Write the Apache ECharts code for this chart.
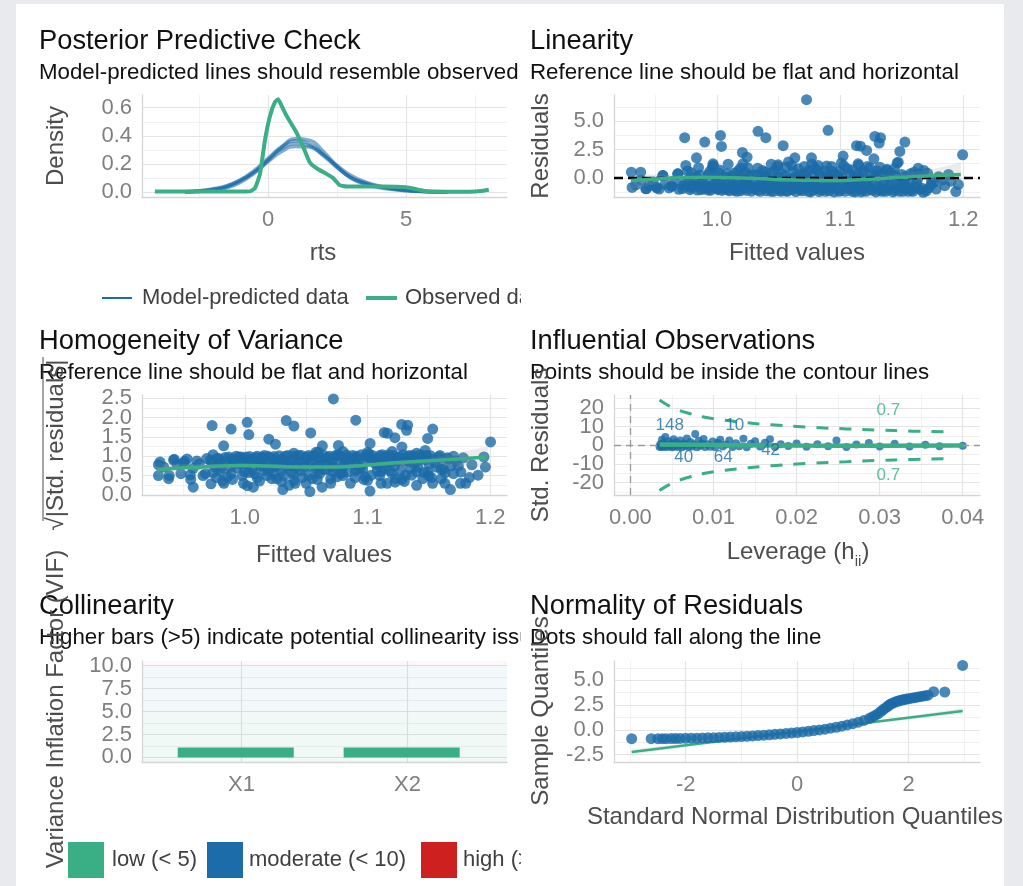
<!DOCTYPE html>
<html><head><meta charset="utf-8">
<script src="https://cdn.jsdelivr.net/npm/echarts@6/dist/echarts.min.js"></script>
<style>html,body{margin:0;padding:0;background:#fff}#c{width:1023px;height:886px}</style>
</head><body><div id="c"></div>
<script>
// ================= DATA =================
// Posterior predictive check
const ppcModelX = [-3.0,-2.5,-2.0,-1.5,-1.0,-0.5,0.0,0.5,1.0,1.5,2.0,2.5,3.0,3.5,4.0,4.5,5.0,5.5,6.0,6.5];
const ppcDraw1 = [0.002,0.007,0.018,0.037,0.080,0.145,0.230,0.310,0.345,0.330,0.260,0.175,0.105,0.068,0.042,0.027,0.015,0.007,0.003,0.001];
const ppcDraw2 = [0.003,0.009,0.020,0.042,0.088,0.155,0.240,0.325,0.365,0.345,0.270,0.180,0.105,0.062,0.038,0.022,0.012,0.006,0.002,0.001];
const ppcDraw3 = [0.004,0.011,0.024,0.046,0.085,0.140,0.215,0.290,0.325,0.320,0.265,0.190,0.120,0.075,0.046,0.028,0.016,0.008,0.004,0.002];
const ppcDraw4 = [0.001,0.005,0.014,0.032,0.070,0.135,0.225,0.320,0.380,0.370,0.290,0.185,0.100,0.058,0.034,0.020,0.011,0.005,0.002,0.001];
const ppcObsX = [-4.1,-3.0,-2.0,-1.0,-0.65,-0.47,-0.29,-0.11,0.07,0.25,0.37,0.5,0.68,1.04,1.28,1.52,1.76,2.12,2.36,2.6,2.85,3.5,4.2,5.0,5.4,5.75,6.5,7.3,7.7,8.0];
const ppcObsY = [0.005,0.005,0.005,0.005,0.006,0.03,0.13,0.37,0.54,0.64,0.66,0.61,0.54,0.42,0.32,0.21,0.17,0.13,0.10,0.05,0.04,0.04,0.04,0.035,0.02,0.006,0.004,0.004,0.008,0.018];

// Linearity: [fitted, residual]
const linPoints = [
[1.0727,6.92],[0.9737,3.55],[0.990,3.16],[1.0028,3.75],[1.0036,2.78],[1.0333,4.11],[1.0396,3.55],[1.0902,4.2],[1.0537,2.84],[1.1282,3.66],[1.1328,3.55],[1.1317,3.07],[1.1526,3.16],[1.1133,2.84],[1.1165,2.80],[1.1215,2.42],[1.1485,2.33],[1.1995,2.04],[1.1024,1.92],[1.0206,2.24],[1.0244,1.83],[0.9833,1.77],[0.9746,1.09],[0.9963,0.94],[1.0632,1.77],[1.0767,1.77],[1.1274,1.68],[1.1463,1.30],[1.1634,0.85],[1.1323,0.94],[1.0496,1.15],[0.9304,0.50],[0.938,0.50],[1.194,-1.22],[1.1675,-1.28],[1.1553,-1.19],[1.1743,-0.24],[0.9426,-0.98],[0.9507,-0.83],[0.956,0.20],[0.9634,-0.74],[0.9683,0.35],
[1.021,1.24],[0.9967,1.24],[1.0605,1.09],[1.0821,1.09],[1.1146,1.24],[1.1377,0.65],[1.1472,1.38],
[0.931,-0.85],[0.934,-0.62],[0.938,-0.2],[0.942,-0.95],[0.945,-0.7],[0.948,-0.35],[0.951,-0.88],
[0.953,-1.0],[0.956,0.2],[0.958,-0.55],[0.961,-0.9],[0.963,-0.74],[0.966,-0.3],[0.968,0.35],[0.969,-1.02],
[0.972,-0.95],[0.974,-0.4],[0.976,0.6],[0.978,-1.05],[0.98,-0.8],[0.982,-0.15],[0.984,-1.08],[0.986,0.25],[0.988,-0.6],[0.99,-1.0],
[0.992,-0.85],[0.994,0.55],[0.995,-1.1],[0.997,1.1],[0.998,-0.3],[1.0,-0.95],[1.002,0.7],[1.004,-1.12],[1.006,-0.5],[1.008,0.35],[1.009,-1.05],
[1.011,-0.8],[1.012,0.15],[1.014,-1.1],[1.016,-0.45],[1.017,0.6],[1.019,-1.15],[1.02,-0.9],[1.022,-0.2],[1.024,-1.12],[1.025,0.9],[1.027,-0.65],[1.028,-1.18],
[1.031,-1.0],[1.032,0.3],[1.034,-0.75],[1.035,-1.2],[1.037,0.65],[1.038,-0.4],[1.04,-1.15],[1.041,-0.1],[1.043,-0.95],[1.045,0.45],[1.046,-1.2],[1.048,-0.6],[1.049,1.0],
[1.051,-1.1],[1.052,-0.3],[1.054,-0.85],[1.055,0.2],[1.057,-1.2],[1.058,1.4],[1.06,-0.7],[1.061,-1.05],[1.063,0.05],[1.064,-1.22],[1.066,0.8],[1.067,-0.5],[1.069,-1.15],
[1.071,-0.9],[1.072,0.4],[1.074,-1.2],[1.075,-0.25],[1.077,1.2],[1.078,-1.1],[1.08,-0.6],[1.081,0.7],[1.083,-1.22],[1.084,-0.4],[1.086,0.1],[1.087,-1.0],[1.089,1.05],
[1.091,-1.15],[1.092,-0.5],[1.094,0.55],[1.095,-1.25],[1.097,-0.8],[1.098,0.25],[1.1,-1.1],[1.101,1.3],[1.103,-0.3],[1.104,-1.2],[1.106,0.8],[1.107,-0.7],[1.109,-1.0],
[1.111,0.1],[1.112,-1.25],[1.114,-0.55],[1.115,1.1],[1.117,-1.05],[1.118,0.45],[1.12,-0.85],[1.121,-1.2],[1.123,-0.2],[1.124,0.9],[1.126,-1.1],[1.127,-0.45],[1.129,-1.25],
[1.131,0.3],[1.133,-0.9],[1.134,-1.2],[1.136,-0.3],[1.138,0.75],[1.139,-1.05],[1.141,-0.6],[1.143,-1.25],[1.145,0.2],[1.147,-0.95],[1.149,-0.4],
[1.151,-1.2],[1.153,0.1],[1.155,-0.8],[1.158,-1.1],[1.16,0.5],[1.162,-0.5],[1.165,-1.05],[1.168,0.65],
[1.172,-0.9],[1.176,-0.4],[1.18,0.1],[1.185,-0.7],[1.19,-0.3],[1.196,-0.6],
[0.973,-0.7],[0.977,-0.2],[0.979,-0.9],[0.981,-0.5],[0.983,0.1],[0.985,-0.75],[0.987,-1.05],[0.989,-0.3],[0.991,-0.65],[0.993,-1.1],
[0.996,-0.7],[0.999,-0.1],[1.001,-1.05],[1.003,-0.35],[1.005,-0.8],[1.007,0.05],[1.01,-1.15],[1.013,-0.6],[1.015,-0.95],[1.018,-0.25],
[1.021,-1.0],[1.023,-0.55],[1.026,0.2],[1.029,-0.85],[1.03,-0.4],[1.033,-1.1],[1.036,-0.05],[1.039,-0.9],[1.042,-0.55],[1.044,-1.2],
[1.047,-0.2],[1.05,-0.95],[1.053,-0.6],[1.056,-1.15],[1.059,-0.15],[1.062,-0.9],[1.065,-0.45],[1.068,-1.05],[1.07,0.2],[1.073,-0.7],
[1.076,-1.25],[1.079,-0.35],[1.082,-0.95],[1.085,-0.75],[1.088,-1.2],[1.09,-0.2],[1.093,-0.9],[1.096,-0.45],[1.099,-1.2],[1.102,0.0],
[1.105,-0.95],[1.108,-0.4],[1.11,-1.2],[1.113,-0.75],[1.116,-0.1],[1.119,-1.1],[1.122,-0.6],[1.125,-1.0],[1.128,0.15],[1.13,-0.8],
[1.132,-1.1],[1.135,-0.5],[1.137,-1.2],[1.14,0.05],[1.142,-0.85],[1.144,-1.1],[1.146,-0.35],[1.148,-1.2],[1.15,-0.7],[1.152,-0.2],
[1.154,-1.0],[1.156,-0.55],[1.159,-1.2],[1.161,-0.85],[1.163,-0.1],[1.166,-0.9],[1.17,-1.15],[1.174,-0.6],[1.178,-1.0],[1.183,-0.2],
[1.061,-0.3],[1.067,-0.95],[1.072,-0.55],[1.078,0.3],[1.084,-1.05],[1.091,-0.65],[1.097,-0.15],[1.104,-0.8],[1.111,-0.35],[1.117,-1.25],
[1.034,-0.6],[1.04,0.15],[1.046,-0.8],[1.052,-1.2],[1.058,-0.5],[1.016,-1.2],[1.024,-0.3],[1.006,-1.0],[0.998,-0.85],[1.012,-0.7],
[0.979,0.45],[0.985,0.9],[0.993,0.3],[1.001,0.45],[1.009,1.2],[1.014,0.4],[1.019,0.85],[1.023,0.5],[1.029,0.25],[1.033,0.85],
[1.039,0.5],[1.044,1.2],[1.047,0.7],[1.053,0.35],[1.056,0.95],[1.062,0.55],[1.068,0.3],[1.071,1.0],[1.074,0.6],[1.079,0.9],
[1.083,0.35],[1.088,0.6],[1.093,1.0],[1.096,0.3],[1.1,0.6],[1.103,1.05],[1.108,0.35],[1.11,0.7],[1.114,0.3],[1.119,0.6],
[1.122,1.0],[1.126,0.25],[1.13,0.6],[1.135,0.35],[1.141,0.45],[1.144,0.8],[1.15,0.3],[1.157,0.35],[1.164,0.3],[1.171,0.4],
[1.188,0.3],[1.05,0.05],[1.065,-0.05],[1.09,0.15],[1.115,-0.15],[1.02,0.05]
];
const linLoess = [[0.93,-0.24],[0.95,-0.1],[0.97,0.0],[1.0,0.02],[1.03,-0.05],[1.054,-0.17],[1.08,-0.22],[1.095,-0.24],[1.11,-0.2],[1.127,-0.1],[1.145,0.02],[1.162,0.11],[1.18,0.2],[1.198,0.29]];
const linBand = [[0.930,-1.0,0.45],[0.95,-0.55,0.3],[0.97,-0.3,0.25],[1.0,-0.2,0.2],[1.03,-0.25,0.1],[1.06,-0.35,0.0],[1.09,-0.42,-0.02],[1.12,-0.35,0.08],[1.15,-0.15,0.35],[1.175,-0.2,0.75],[1.198,-0.6,1.35]];
const linRefY = 0;

// Homogeneity: [fitted, sqrt|std resid|]
const homPoints = [
[1.0722,2.48],[1.0904,1.93],[0.9734,1.79],[0.9889,1.70],[1.002,1.875],[1.0033,1.56],[1.0338,1.92],[1.040,1.78],[1.0537,1.60],[1.0196,1.44],[1.025,1.31],[0.9828,1.27],[1.0632,1.27],[1.0763,1.28],[1.1021,1.33],[1.1136,1.61],[1.1163,1.59],[1.1223,1.48],[1.1278,1.82],[1.1327,1.80],[1.1318,1.67],[1.1531,1.70],[1.149,1.46],[1.128,1.24],[1.147,1.15],[1.2002,1.37],[1.1948,0.98],[1.1675,0.14],[1.1757,0.30],[1.1632,0.57],[0.958,0.20],[0.9297,0.78],[0.9297,0.50],[0.9385,0.50],[0.9426,0.92],[0.950,0.83],[0.9556,0.52],[0.9742,1.04],[0.9725,0.29],[1.031,0.14],[1.053,0.09],[1.002,0.24],[1.1225,0.33],
[0.931,0.85],[0.934,0.72],[0.938,0.42],[0.942,0.9],[0.945,0.78],[0.948,0.55],[0.951,0.87],
[0.953,0.93],[0.956,0.4],[0.958,0.69],[0.961,0.88],[0.963,0.8],[0.966,0.5],[0.968,0.55],[0.969,0.94],
[0.972,0.9],[0.974,0.58],[0.976,0.72],[0.978,0.95],[0.98,0.83],[0.982,0.36],[0.984,0.97],[0.986,0.47],[0.988,0.72],[0.99,0.93],
[0.992,0.86],[0.994,0.7],[0.995,0.98],[0.997,0.98],[0.998,0.5],[1.0,0.91],[1.002,0.78],[1.004,0.99],[1.006,0.66],[1.008,0.55],[1.009,0.96],
[1.011,0.83],[1.012,0.36],[1.014,0.98],[1.016,0.63],[1.017,0.72],[1.019,1.0],[1.02,0.88],[1.022,0.42],[1.024,0.99],[1.025,0.88],[1.027,0.75],[1.028,1.01],
[1.031,0.93],[1.032,0.5],[1.034,0.81],[1.035,1.02],[1.037,0.75],[1.038,0.59],[1.04,1.0],[1.041,0.3],[1.043,0.91],[1.045,0.63],[1.046,1.02],[1.048,0.72],[1.049,0.93],
[1.051,0.98],[1.052,0.51],[1.054,0.86],[1.055,0.42],[1.057,1.02],[1.058,1.1],[1.06,0.78],[1.061,0.96],[1.063,0.2],[1.064,1.03],[1.066,0.83],[1.067,0.66],[1.069,1.0],
[1.071,0.88],[1.072,0.59],[1.074,1.02],[1.075,0.47],[1.077,1.02],[1.078,0.98],[1.08,0.72],[1.081,0.78],[1.083,1.03],[1.084,0.59],[1.086,0.3],[1.087,0.93],[1.089,0.95],
[1.091,1.0],[1.092,0.66],[1.094,0.69],[1.095,1.04],[1.097,0.83],[1.098,0.47],[1.1,0.98],[1.101,1.06],[1.103,0.51],[1.104,1.02],[1.106,0.83],[1.107,0.78],[1.109,0.93],
[1.111,0.3],[1.112,1.04],[1.114,0.69],[1.115,0.98],[1.117,0.96],[1.118,0.63],[1.12,0.86],[1.121,1.02],[1.123,0.42],[1.124,0.88],[1.126,0.98],[1.127,0.63],[1.129,1.04],
[1.131,0.51],[1.133,0.88],[1.134,1.02],[1.136,0.51],[1.138,0.81],[1.139,0.96],[1.141,0.72],[1.143,1.04],[1.145,0.42],[1.147,0.91],[1.149,0.59],
[1.151,1.02],[1.153,0.3],[1.155,0.83],[1.158,0.98],[1.16,0.66],[1.162,0.66],[1.165,0.96],[1.168,0.75],
[1.172,0.88],[1.176,0.59],[1.18,0.3],[1.185,0.78],[1.19,0.51],[1.196,0.72],
[0.973,0.82],[0.977,0.45],[0.979,0.93],[0.981,0.7],[0.983,0.3],[0.985,0.85],[0.987,0.98],[0.989,0.55],[0.991,0.8],[0.993,1.0],
[0.996,0.8],[0.999,0.3],[1.001,0.98],[1.003,0.58],[1.005,0.87],[1.007,0.2],[1.01,1.0],[1.013,0.75],[1.015,0.93],[1.018,0.5],
[1.021,0.96],[1.023,0.72],[1.026,0.42],[1.029,0.88],[1.03,0.62],[1.033,1.0],[1.036,0.25],[1.039,0.9],[1.042,0.72],[1.044,1.02],
[1.047,0.45],[1.05,0.93],[1.053,0.75],[1.056,1.0],[1.059,0.4],[1.062,0.9],[1.065,0.66],[1.068,0.97],[1.07,0.42],[1.073,0.8],
[1.076,1.04],[1.079,0.58],[1.082,0.93],[1.085,0.83],[1.088,1.02],[1.09,0.45],[1.093,0.9],[1.096,0.66],[1.099,1.02],[1.102,0.1],
[1.105,0.93],[1.108,0.62],[1.11,1.02],[1.113,0.83],[1.116,0.3],[1.119,0.98],[1.122,0.75],[1.125,0.96],[1.128,0.4],[1.13,0.87],
[1.132,0.98],[1.135,0.69],[1.137,1.02],[1.14,0.25],[1.142,0.9],[1.144,0.98],[1.146,0.58],[1.148,1.02],[1.15,0.8],[1.152,0.45],
[1.154,0.93],[1.156,0.72],[1.159,1.02],[1.161,0.9],[1.163,0.3],[1.166,0.93],[1.17,1.0],[1.174,0.75],[1.178,0.96],[1.183,0.45],
[1.061,0.55],[1.067,0.93],[1.072,0.72],[1.078,0.55],[1.084,0.96],[1.091,0.78],[1.097,0.4],[1.104,0.87],[1.111,0.6],[1.117,1.04],
[1.034,0.75],[1.04,0.38],[1.046,0.87],[1.052,1.02],[1.058,0.69],[1.016,1.02],[1.024,0.55],[1.006,0.93],[0.998,0.88],[1.012,0.8],
[0.98,0.62],[0.99,0.4],[1.0,0.6],[1.01,0.45],[1.02,0.66],[1.03,0.35],[1.04,0.55],[1.05,0.3],[1.06,0.62],[1.07,0.3],
[1.08,0.5],[1.09,0.62],[1.1,0.38],[1.11,0.5],[1.12,0.55],[1.13,0.35],[1.14,0.6],[1.15,0.5],[1.16,0.42],[1.17,0.55],
[1.04,1.08],[1.06,1.1],[1.08,1.12],[1.1,1.1],[1.12,1.12],[1.14,1.08]
];
const homLoess = [[0.929,0.66],[0.95,0.7],[0.97,0.73],[0.996,0.76],[1.02,0.745],[1.05,0.72],[1.07,0.72],[1.088,0.74],[1.11,0.8],[1.132,0.85],[1.16,0.9],[1.18,0.94],[1.197,0.98]];
const homBand = [[0.929,0.5,0.82],[0.95,0.6,0.8],[0.97,0.66,0.8],[1.0,0.7,0.81],[1.03,0.68,0.77],[1.06,0.68,0.77],[1.09,0.7,0.8],[1.12,0.76,0.87],[1.15,0.8,0.94],[1.175,0.76,1.1],[1.198,0.72,1.25]];

// Influential observations: [leverage, std. residual]
const inflPoints = [
[0.0035,-0.8],[0.0036,0.5],[0.0037,-0.9],[0.0038,3.0],[0.0039,-0.5],[0.0040,1.2],[0.0041,-0.95],[0.0042,4.5],[0.0043,0.2],[0.0044,-0.85],[0.0046,2.1],[0.0047,-0.7],[0.0049,0.8],[0.0050,-1.0],[0.0052,3.2],[0.0053,-0.6],[0.0055,1.5],[0.0057,-0.9],[0.0058,0.3],[0.0060,2.6],[0.0062,-1.05],[0.0064,0.9],[0.0066,-0.4],[0.0068,3.6],[0.0070,-0.95],[0.0072,1.8],[0.0074,-0.7],[0.0076,0.5],[0.0078,6.0],[0.0080,-1.0],[0.0082,2.4],[0.0084,-0.3],[0.0086,1.0],[0.0088,3.4],[0.0090,-0.9],[0.0093,0.6],[0.0096,-0.8],[0.0099,2.0],[0.0102,-1.0],[0.0105,1.2],[0.0108,3.0],[0.0111,-0.6],[0.0115,0.4],[0.0119,2.5],[0.0123,-0.9],[0.0127,1.1],[0.0131,-0.5],[0.0136,3.5],[0.0140,-1.0],[0.0145,0.8],[0.0150,2.2],[0.0156,-0.7],[0.0162,1.4],[0.0168,3.3],[0.0174,-0.9],[0.0181,0.5],[0.0190,-0.4],[0.0200,1.0],[0.0212,-0.8],[0.0225,0.6],[0.0238,-0.5],[0.0248,2.5],[0.0260,-0.9],[0.0272,0.4],[0.0287,1.2],[0.0300,-0.6],[0.0318,0.8],[0.0336,-0.7],[0.0355,0.3],[0.0372,-0.5],[0.0400,-0.2]
];
const inflContourLev = [0.0035,0.0045,0.0055,0.0070,0.0088,0.0110,0.0136,0.0170,0.0216,0.0260,0.0296,0.0340,0.0389];
const inflContourUp = [24.3,21.5,19.4,17.2,15.2,13.7,12.3,11.0,9.7,8.8,8.2,7.6,7.1];
const inflContourLo = [-24.3,-21.5,-19.4,-17.2,-15.2,-13.7,-12.3,-11.0,-9.7,-8.8,-8.2,-7.6,-7.1];
const inflLoessLev = [0.0035,0.008,0.014,0.02,0.03,0.04];
const inflLoessRes = [0.4,0.25,0.05,-0.15,-0.2,-0.1];
const inflLabelText = ['148','10','40','64','42'];
const inflLabelLev = [0.00473,0.01257,0.00642,0.01116,0.01687];
const inflLabelRes = [10.9,10.9,-6.45,-6.45,-2.9];
const contourLabelText = ['0.7','0.7'];
const contourLabelLev = [0.03104,0.03104];
const contourLabelRes = [18.6,-16.0];

// Collinearity
const vifNames = ['X1','X2'];
const vifValues = [1.07,1.07];
const vifThresholds = [5,10];
const vifLegend = ['low (< 5)','moderate (< 10)','high (>= 10)'];

// Normality (QQ)
const qqTheo = [-2.97,-2.62,-2.5,-2.42,-2.35,-2.26,-2.18,-2.1,-2.0,-1.9,-1.8,-1.7,-1.6,-1.5,-1.4,-1.3,-1.2,-1.1,-1.0,-0.9,-0.8,-0.7,-0.6,-0.5,-0.4,-0.3,-0.2,-0.1,0.0,0.1,0.2,0.3,0.4,0.5,0.6,0.7,0.8,0.9,1.0,1.1,1.2,1.3,1.35,1.4,1.45,1.5,1.54,1.58,1.62,1.65,1.68,1.72,1.76,1.8,1.84,1.88,1.92,1.96,2.0,2.05,2.1,2.15,2.2,2.25,2.3,2.35,2.45,2.65,2.97];
const qqSample = [-0.90,-0.90,-0.89,-0.89,-0.89,-0.88,-0.88,-0.87,-0.86,-0.85,-0.84,-0.82,-0.81,-0.79,-0.77,-0.75,-0.73,-0.71,-0.68,-0.65,-0.62,-0.58,-0.54,-0.50,-0.46,-0.42,-0.37,-0.32,-0.27,-0.21,-0.15,-0.08,-0.01,0.07,0.16,0.26,0.37,0.49,0.62,0.77,0.95,1.17,1.3,1.45,1.62,1.85,2.02,2.2,2.35,2.5,2.6,2.7,2.8,2.88,2.95,3.0,3.05,3.1,3.15,3.2,3.25,3.3,3.35,3.4,3.45,3.5,3.85,3.82,6.5];
const qqLineX = [-2.97,2.97];
const qqLineY = [-2.24,1.90];
const qqBand = [[-2.97,-2.52,-1.96],[-2.0,-1.74,-1.38],[-1.0,-0.97,-0.77],[0.0,-0.25,-0.09],[1.0,0.43,0.63],[2.0,1.04,1.40],[2.97,1.62,2.18]];

// ================= STYLE / BUILD =================
const FONT = '"Liberation Sans", Arial, Helvetica, sans-serif';
const BLUE = '#1b6ca8', GREEN = '#3aaf85', RED = '#cd201f';
const TICK_COLOR = '#7f7f7f', AXT_COLOR = '#4d4d4d', TITLE_COLOR = '#111111';
const GRID_MAJOR = '#e4e4e4', GRID_MINOR = '#f1f1f1', AXIS_LINE = '#d5d5d5';
const FRAME = '#e8eaed';

const grids = [
  {left: 142, top: 95, width: 365, height: 102},
  {left: 614, top: 95, width: 366, height: 102},
  {left: 142, top: 395, width: 365, height: 100},
  {left: 614, top: 395, width: 366, height: 100},
  {left: 142, top: 661, width: 365, height: 101},
  {left: 614, top: 661, width: 366, height: 101}
];

function isMult(v, step) { return Math.abs(v / step - Math.round(v / step)) < 1e-6; }
function fmtNum(step, digits) {
  return function (v) { return isMult(v, step) ? (Math.abs(v) < 1e-12 ? 0 : v).toFixed(digits) : ''; };
}

const xAxes = [], yAxes = [];
function addAxes(list, g, pos, minorPos, s, margin) {
  const idx = list.length;
  list.push({
    type: 'value', gridIndex: g, position: pos, min: s.min, max: s.max,
    minInterval: s.major, maxInterval: s.major, z: 1,
    axisLine: {show: true, onZero: false, lineStyle: {color: AXIS_LINE, width: 1.3}},
    axisTick: {show: false},
    axisLabel: {show: true, margin: margin, color: TICK_COLOR, fontSize: 22, lineHeight: 12, fontFamily: FONT, formatter: s.fmt,
      hideOverlap: false},
    splitLine: {show: true, showMinLine: false, showMaxLine: false, lineStyle: {color: GRID_MAJOR, width: 1.2}},
    minorTick: {show: false}, minorSplitLine: {show: false}
  });
  list.push({
    type: 'value', gridIndex: g, position: minorPos, min: s.min, max: s.max,
    minInterval: s.minor || s.major, maxInterval: s.minor || s.major, z: 0,
    axisLine: {show: false}, axisTick: {show: false}, axisLabel: {show: false},
    splitLine: {show: !!s.minor, showMinLine: false, showMaxLine: false, lineStyle: {color: GRID_MINOR, width: 1}}
  });
  return idx;
}
function ax(g, xs, ys) {
  return {x: addAxes(xAxes, g, 'bottom', 'top', xs, 17), y: addAxes(yAxes, g, 'left', 'right', ys, 10)};
}

const A0 = ax(0, {min: -4.565, max: 8.659, major: 5, minor: 2.5, fmt: fmtNum(5, 0)},
                 {min: -0.034, max: 0.69, major: 0.2, minor: 0.1, fmt: fmtNum(0.2, 1)});
const A1 = ax(1, {min: 0.9163, max: 1.2136, major: 0.1, minor: 0.05, fmt: fmtNum(0.1, 1)},
                 {min: -1.70, max: 7.33, major: 2.5, minor: 1.25, fmt: fmtNum(2.5, 1)});
const A2 = ax(2, {min: 0.9163, max: 1.2136, major: 0.1, minor: 0.05, fmt: fmtNum(0.1, 1)},
                 {min: -0.0005, max: 2.58, major: 0.5, minor: 0.25, fmt: fmtNum(0.5, 1)});
const A3 = ax(3, {min: -0.00198, max: 0.04208, major: 0.01, minor: 0.005, fmt: fmtNum(0.01, 2)},
                 {min: -26.7, max: 27.0, major: 10, minor: 5, fmt: fmtNum(10, 0)});
const A4 = ax(4, {min: 0.4, max: 2.6, major: 1, minor: 0, fmt: function (v) { return isMult(v, 1) && vifNames[Math.round(v) - 1] || ''; }},
                 {min: -0.5, max: 10.5, major: 2.5, minor: 1.25, fmt: fmtNum(2.5, 1)});
const A5 = ax(5, {min: -3.287, max: 3.282, major: 2, minor: 1, fmt: fmtNum(2, 0)},
                 {min: -3.25, max: 6.95, major: 2.5, minor: 1.25, fmt: fmtNum(2.5, 1)});

function zip(xs, ys) { return xs.map(function (x, i) { return [x, ys[i]]; }); }
function on(a, obj) { obj.xAxisIndex = a.x; obj.yAxisIndex = a.y; return obj; }

function bandSeries(a, rows, color, z) {
  return on(a, {
    type: 'custom', silent: true, clip: true, z: z, data: rows,
    renderItem: function (params, api) {
      if (params.dataIndex !== 0) return null;
      const top = rows.map(function (r) { return api.coord([r[0], r[2]]); });
      const bot = rows.slice().reverse().map(function (r) { return api.coord([r[0], r[1]]); });
      return {type: 'polygon', shape: {points: top.concat(bot)}, style: {fill: color}};
    }
  });
}
function dots(a, data, size, z) {
  return on(a, {type: 'scatter', silent: true, data: data, symbolSize: size, z: z,
    itemStyle: {color: BLUE, opacity: 0.8}});
}
function curve(a, data, color, width, z, extra) {
  return on(a, Object.assign({type: 'line', silent: true, data: data, symbol: 'none', showSymbol: false,
    smooth: true, lineStyle: {color: color, width: width}, itemStyle: {color: color}, z: z}, extra || {}));
}
function textMarks(a, texts, xs, ys, color, z) {
  return on(a, {type: 'scatter', silent: true, symbolSize: 0, z: z,
    data: texts.map(function (t, i) { return {name: t, value: [xs[i], ys[i]]}; }),
    label: {show: true, position: 'inside', formatter: function (p) { return p.name; },
      color: color, fontSize: 17, fontFamily: FONT}});
}

const series = [];
// Panel 1: PPC
[ppcDraw1, ppcDraw2, ppcDraw3, ppcDraw4].forEach(function (d) {
  series.push(curve(A0, zip(ppcModelX, d), BLUE, 3.5, 3, {name: 'Model-predicted data', lineStyle: {color: BLUE, width: 3.5, opacity: 0.55}}));
});
series.push(curve(A0, zip(ppcObsX, ppcObsY), GREEN, 4, 4, {name: 'Observed data', smooth: 0.15}));

// Panel 2: Linearity
series.push(dots(A1, linPoints, 11, 3));
series.push(bandSeries(A1, linBand, 'rgba(150,150,150,0.18)', 4));
series.push(curve(A1, linLoess, GREEN, 3.5, 5));
series.push(on(A1, {type: 'line', data: [], silent: true, z: 6,
  markLine: {silent: true, animation: false, symbol: ['none', 'none'], label: {show: false},
    lineStyle: {color: '#000', width: 2.3, type: [9, 5]}, data: [{yAxis: linRefY}]}}));

// Panel 3: Homogeneity
series.push(dots(A2, homPoints, 11, 3));
series.push(bandSeries(A2, homBand, 'rgba(150,150,150,0.18)', 4));
series.push(curve(A2, homLoess, GREEN, 3.5, 5));

// Panel 4: Influential observations
series.push(on(A3, {type: 'line', data: [], silent: true, z: 2,
  markLine: {silent: true, animation: false, symbol: ['none', 'none'], label: {show: false},
    lineStyle: {color: '#9a9a9a', width: 1.3, type: [7, 5]}, data: [{xAxis: 0}, {yAxis: 0}]}}));
series.push(curve(A3, zip(inflContourLev, inflContourUp), GREEN, 3, 3, {lineStyle: {color: GREEN, width: 3, type: [12, 11]}}));
series.push(curve(A3, zip(inflContourLev, inflContourLo), GREEN, 3, 3, {lineStyle: {color: GREEN, width: 3, type: [12, 11]}}));
series.push(dots(A3, inflPoints, 8, 4));
series.push(curve(A3, zip(inflLoessLev, inflLoessRes), GREEN, 4.5, 5));
series.push(textMarks(A3, inflLabelText, inflLabelLev, inflLabelRes, BLUE, 6));
series.push(textMarks(A3, contourLabelText, contourLabelLev, contourLabelRes, GREEN, 6));

// Panel 5: Collinearity
const vifMin = -0.5, vifMax = 10.5;
series.push(on(A4, {type: 'bar', name: vifLegend[0], silent: true, z: 3, barWidth: 116,
  data: vifNames.map(function (n, i) { return [i + 1, vifValues[i]]; }),
  itemStyle: {color: GREEN},
  markArea: {silent: true, animation: false, data: [
    [{yAxis: vifMin, itemStyle: {color: 'rgba(58,175,133,0.07)'}}, {yAxis: vifThresholds[0]}],
    [{yAxis: vifThresholds[0], itemStyle: {color: 'rgba(27,108,168,0.05)'}}, {yAxis: vifThresholds[1]}],
    [{yAxis: vifThresholds[1], itemStyle: {color: 'rgba(205,32,31,0.03)'}}, {yAxis: vifMax}]
  ]}}));
series.push(on(A4, {type: 'bar', name: vifLegend[1], data: [], itemStyle: {color: BLUE}}));
series.push(on(A4, {type: 'bar', name: vifLegend[2], data: [], itemStyle: {color: RED}}));

// Panel 6: QQ
series.push(bandSeries(A5, qqBand, 'rgba(150,150,150,0.18)', 3));
series.push(curve(A5, zip(qqLineX, qqLineY), GREEN, 2.6, 4, {smooth: false}));
series.push(dots(A5, zip(qqTheo, qqSample), 11, 5));

// ---------- texts ----------
function txt(text, x, y, size, color, o) {
  o = o || {};
  return {type: 'text', x: x, y: y, rotation: o.rot ? Math.PI / 2 : 0, z: o.z || 50, silent: true,
    style: Object.assign({text: text, font: size + 'px ' + FONT, fill: color,
      textAlign: o.align || 'left', textVerticalAlign: 'middle'}, o.style || {})};
}
function mask(x, y, w, h) {
  return {type: 'rect', z: 60, silent: true, shape: {x: x, y: y, width: w, height: h}, style: {fill: '#ffffff'}};
}
const R = {z: 70};
const graphics = [
  // left column texts (may overflow; clipped by masks at the column edge)
  txt('Posterior Predictive Check', 39, 41, 27.3, TITLE_COLOR),
  txt('Model-predicted lines should resemble observed data', 39, 72.5, 22.3, TITLE_COLOR),
  txt('Homogeneity of Variance', 39, 341, 27.3, TITLE_COLOR),
  txt('Reference line should be flat and horizontal', 39, 372.5, 22.3, TITLE_COLOR),
  txt('Collinearity', 39, 606, 27.3, TITLE_COLOR),
  txt('Higher bars (>5) indicate potential collinearity issues', 39, 638, 22.3, TITLE_COLOR),
  txt('Density', 56, 146, 24, AXT_COLOR, {rot: true, align: 'center'}),
  txt('rts', 323, 253, 24, AXT_COLOR, {align: 'center'}),
  txt('\u221A|Std. residuals|', 56, 445, 24, AXT_COLOR, {rot: true, align: 'center'}),
  txt('Fitted values', 324, 555, 24, AXT_COLOR, {align: 'center'}),
  txt('Variance Inflation Factor (VIF)', 56, 709, 24, AXT_COLOR, {rot: true, align: 'center'}),
  {type: 'line', z: 50, silent: true, shape: {x1: 43, y1: 357, x2: 43, y2: 521}, style: {stroke: AXT_COLOR, lineWidth: 1}},

  // masks clipping left-column overflow
  mask(521, 56, 483, 34),
  mask(521, 283, 483, 32),
  mask(521, 623, 483, 30),
  mask(521, 838, 483, 48),

  // right column texts
  txt('Linearity', 530, 41, 27.3, TITLE_COLOR, R),
  txt('Reference line should be flat and horizontal', 530, 72.5, 22.3, TITLE_COLOR, R),
  txt('Influential Observations', 530, 341, 27.3, TITLE_COLOR, R),
  txt('Points should be inside the contour lines', 530, 372.5, 22.3, TITLE_COLOR, R),
  txt('Normality of Residuals', 530, 606, 27.3, TITLE_COLOR, R),
  txt('Dots should fall along the line', 530, 638, 22.3, TITLE_COLOR, R),
  txt('Residuals', 541, 146, 24, AXT_COLOR, {rot: true, align: 'center', z: 70}),
  txt('Fitted values', 797, 253, 24, AXT_COLOR, {align: 'center', z: 70}),
  txt('Std. Residuals', 541, 445, 24, AXT_COLOR, {rot: true, align: 'center', z: 70}),
  txt('Leverage (h{sub|ii})', 798, 552, 24, AXT_COLOR, {align: 'center', z: 70,
    style: {rich: {sub: {font: '15px ' + FONT, fill: AXT_COLOR, padding: [20, 0, 0, 0]}}}}),
  txt('Sample Quantiles', 541, 711, 24, AXT_COLOR, {rot: true, align: 'center', z: 70}),
  txt('Standard Normal Distribution Quantiles', 795, 817, 24, AXT_COLOR, {align: 'center', z: 70}),

  // outer frame
  {type: 'rect', z: 100, silent: true, shape: {x: 0, y: 0, width: 16, height: 886}, style: {fill: FRAME}},
  {type: 'rect', z: 100, silent: true, shape: {x: 0, y: 0, width: 1023, height: 4}, style: {fill: FRAME}},
  {type: 'rect', z: 100, silent: true, shape: {x: 1004, y: 0, width: 19, height: 886}, style: {fill: FRAME}}
];

const legendText = {fontSize: 22, fontFamily: FONT, color: '#404040'};
const legends = [
  {left: 102, top: 287, padding: 0, data: ['Model-predicted data'], icon: 'rect', itemWidth: 30, itemHeight: 2, selectedMode: false,
    textStyle: Object.assign({padding: [0, 0, 0, 5]}, legendText)},
  {left: 366, top: 287, padding: 0, data: ['Observed data'], icon: 'rect', itemWidth: 31, itemHeight: 4, selectedMode: false,
    textStyle: Object.assign({padding: [0, 0, 0, 3]}, legendText)},
  {left: 68, top: 842, padding: 0, data: [vifLegend[0]], icon: 'rect', itemWidth: 36, itemHeight: 36, selectedMode: false,
    textStyle: Object.assign({padding: [0, 0, 0, 3]}, legendText)},
  {left: 207, top: 842, padding: 0, data: [vifLegend[1]], icon: 'rect', itemWidth: 36, itemHeight: 36, selectedMode: false,
    textStyle: Object.assign({padding: [0, 0, 0, 1]}, legendText)},
  {left: 421, top: 842, padding: 0, data: [vifLegend[2]], icon: 'rect', itemWidth: 36, itemHeight: 36, selectedMode: false,
    textStyle: Object.assign({padding: [0, 0, 0, 1]}, legendText)}
];

const chart = echarts.init(document.getElementById('c'), null, {renderer: 'canvas', width: 1023, height: 886});
chart.setOption({
  animation: false,
  backgroundColor: '#ffffff',
  grid: grids.map(function (g) { return Object.assign({containLabel: false, outerBoundsMode: 'none', show: false}, g); }),
  xAxis: xAxes,
  yAxis: yAxes,
  legend: legends,
  series: series,
  graphic: {elements: graphics}
});
</script>
</body></html>
